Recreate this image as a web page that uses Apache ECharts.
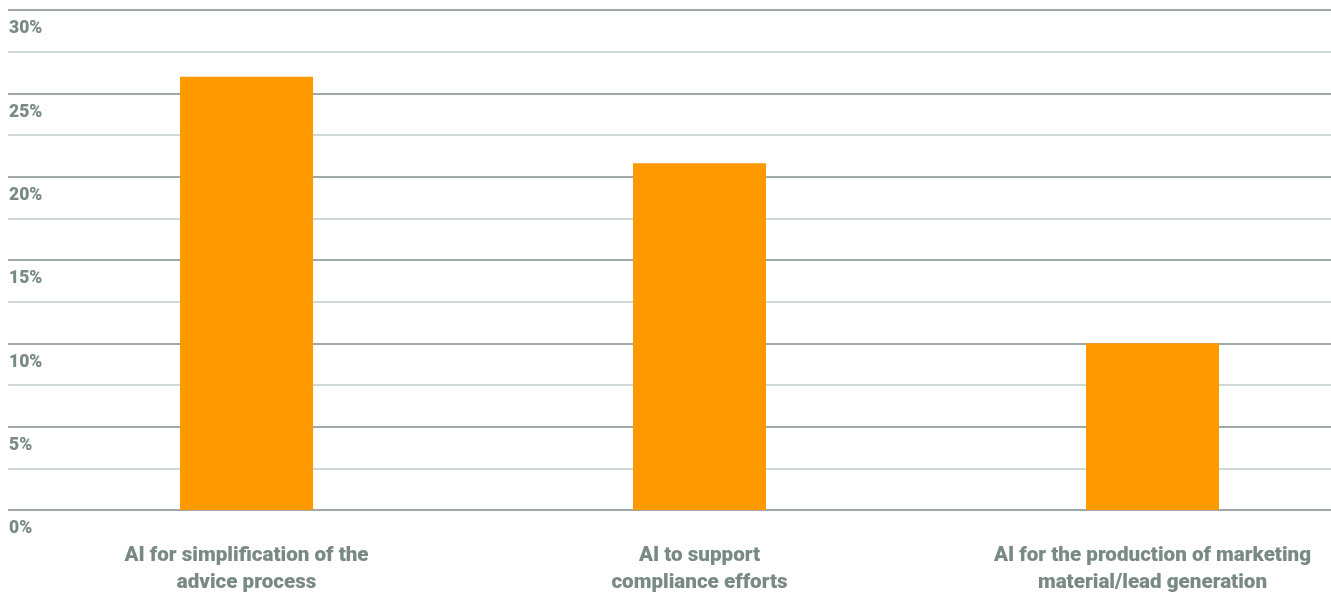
<!DOCTYPE html>
<html><head><meta charset="utf-8">
<script src="https://cdn.jsdelivr.net/npm/echarts@6/dist/echarts.min.js"></script>
<style>html,body{margin:0;padding:0;background:#fff}#c{width:1331px;height:592px}</style>
</head><body><div id="c"></div>
<script>
var categories = ['AI for simplification of the\nadvice process', 'AI to support\ncompliance efforts', 'AI for the production of marketing\nmaterial/lead generation'];
var values = [26, 20.8, 10];
var yTicks = [0, 5, 10, 15, 20, 25, 30];

var textColor = '#788a83';
var chart = echarts.init(document.getElementById('c'), null, {renderer: 'canvas'});
chart.setOption({
  animation: false,
  grid: [
    {left: 8, right: 0, top: 10, bottom: 82, outerBoundsMode: 'none', containLabel: false},
    {left: 20, width: 1359, top: 10, bottom: 82, outerBoundsMode: 'none', containLabel: false}
  ],
  xAxis: [
    {gridIndex: 0, type: 'value', show: false, min: 0, max: 1},
    {gridIndex: 1, type: 'category', data: categories,
     axisLine: {show: false}, axisTick: {show: false},
     axisLabel: {margin: 32, color: textColor, fontFamily: 'Roboto', fontWeight: 900, fontSize: 20.6, lineHeight: 27, align: 'center'}}
  ],
  yAxis: [
    {gridIndex: 0, type: 'value', min: 0, max: 30, interval: 2.5,
     axisLine: {show: false}, axisTick: {show: false},
     splitLine: {lineStyle: {color: ['#7f8e88', '#c2ccc8'], width: [1.5]}},
     axisLabel: {inside: true, margin: 1, verticalAlign: 'top', padding: [10, 0, 0, 0], lineHeight: 18,
       color: textColor, fontFamily: 'Roboto', fontWeight: 900, fontSize: 17.5,
       formatter: function (v) { return yTicks.indexOf(v) >= 0 ? v + '%' : ''; }}},
    {gridIndex: 1, type: 'value', min: 0, max: 30, show: false, splitLine: {show: false}}
  ],
  series: [{
    type: 'bar', xAxisIndex: 1, yAxisIndex: 1, data: values, barWidth: 133,
    itemStyle: {color: '#ff9900'}
  }]
});
</script></body></html>
